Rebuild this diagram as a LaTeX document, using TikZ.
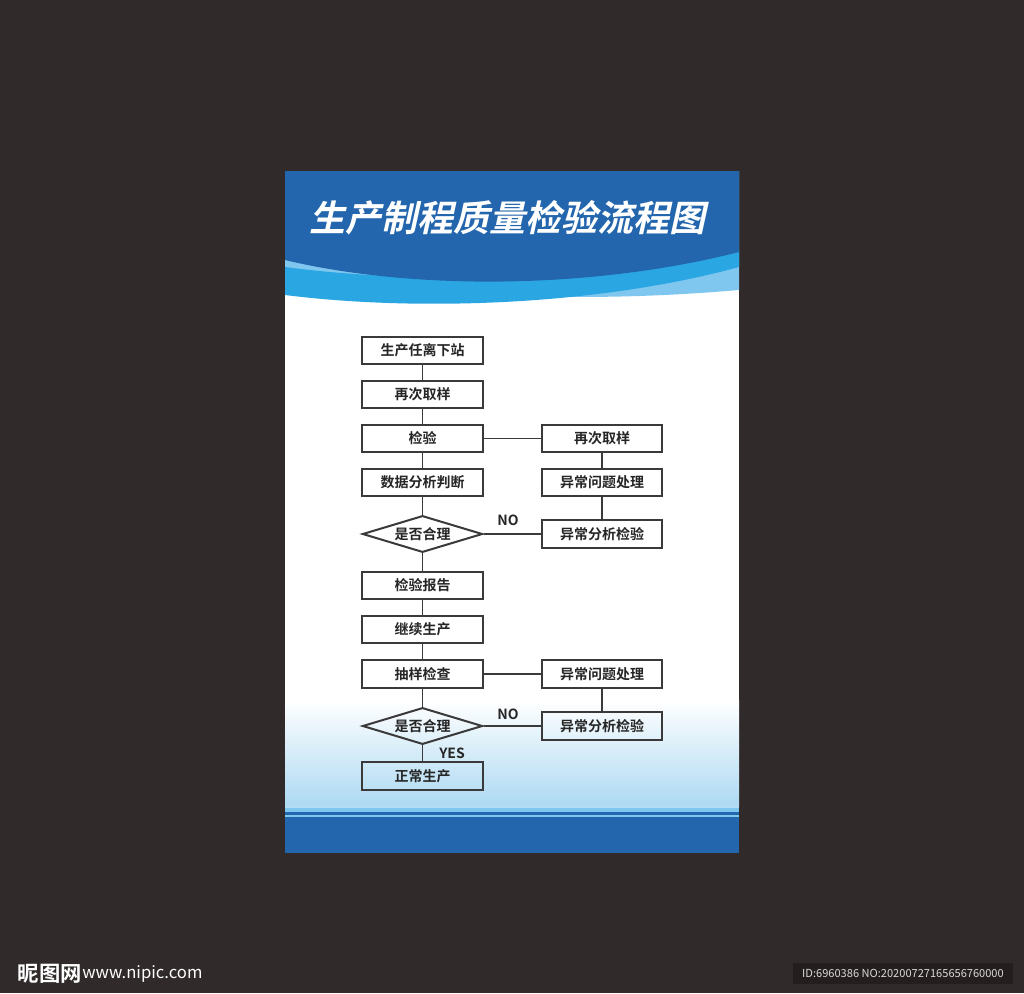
\documentclass[tikz,border=0pt]{standalone}
\usepackage{fontspec}
\usepackage{xcolor}
\usetikzlibrary{shapes.geometric}
\setmainfont{Noto Sans CJK SC}[BoldFont={Noto Sans CJK SC Bold}]
\newfontfamily\titlefont{Noto Sans CJK SC Bold}[FakeSlant=0.22]
\definecolor{bgdark}{HTML}{302A2A}
\definecolor{markdark}{HTML}{241E1E}
\definecolor{headblue}{HTML}{2366AD}
\definecolor{brightblue}{HTML}{2AA7E3}
\definecolor{paleblue}{HTML}{7FC7EF}
\definecolor{fadeblue}{HTML}{ADD9F2}
\definecolor{boxline}{HTML}{3A3A3A}

\begin{document}
\begin{tikzpicture}[x=0.75pt,y=-0.75pt,
    flowbox/.style={draw=boxline,line width=1.5pt,minimum width=90.5pt,minimum height=20.5pt,
      inner sep=0pt,font=\bfseries\fontsize{10.5}{12}\selectfont,text=black!85},
    judge/.style={flowbox,shape=diamond,aspect=3.2,minimum width=90pt,minimum height=27.5pt},
    joinline/.style={draw=boxline,line width=1.4pt},
    notelabel/.style={font=\bfseries\fontsize{10.5}{12}\selectfont,text=black!85}]
  \useasboundingbox (0,0) rectangle (1024,993);
  % Background
  \fill[bgdark] (0,0) rectangle (1024,993);

  % Poster
  \fill[white] (285,171) rectangle (739,853);
  \shade[top color=white,bottom color=fadeblue] (285,700) rectangle (739,806);

  % Header waves
  \fill[paleblue] (285,171) -- (285,272) .. controls (450,300) and (600,302) .. (739,290) -- (739,171) -- cycle;
  \fill[brightblue] (285,267) .. controls (420,285) and (600,280) .. (739,250)
    -- (739,267) .. controls (600,305) and (420,312) .. (285,295) -- cycle;
  \fill[headblue] (285,171) -- (285,260) .. controls (410,290) and (590,290) .. (739,252) -- (739,171) -- cycle;
  \node[font=\titlefont\fontsize{27}{29}\selectfont,text=white] (title) at (507,218) {生产制程质量检验流程图};

  % Footer
  \fill[paleblue!60] (285,806) rectangle (739,808);
  \fill[paleblue] (285,808) rectangle (739,812);
  \fill[headblue] (285,812) rectangle (739,815);
  \fill[paleblue] (285,815) rectangle (739,817);
  \fill[headblue] (285,817) rectangle (739,853);

  % Main column
  \node[flowbox] (leave) at (422.5,350.5) {生产任离下站};
  \node[flowbox] (sample) at (422.5,394.5) {再次取样};
  \node[flowbox] (inspect) at (422.5,438.5) {检验};
  \node[flowbox] (analyse) at (422.5,482.5) {数据分析判断};
  \node[judge] (ok) at (422.5,534) {是否合理};
  \node[flowbox] (report) at (422.5,585.5) {检验报告};
  \node[flowbox] (goon) at (422.5,629.5) {继续生产};
  \node[flowbox] (spot) at (422.5,674) {抽样检查};
  \node[judge] (oktwo) at (422.5,726) {是否合理};
  \node[flowbox] (normal) at (422.5,776) {正常生产};

  % Side column
  \node[flowbox] (resample) at (602,438.5) {再次取样};
  \node[flowbox] (handle) at (602,482.5) {异常问题处理};
  \node[flowbox] (fault) at (602,534) {异常分析检验};
  \node[flowbox] (handletwo) at (602,674) {异常问题处理};
  \node[flowbox] (faulttwo) at (602,726) {异常分析检验};

  % Connectors
  \draw[joinline] (leave) -- (sample) -- (inspect) -- (analyse) -- (ok) -- (report) -- (goon) -- (spot) -- (oktwo) -- (normal);
  \draw[joinline] (inspect) -- (resample);
  \draw[joinline] (resample) -- (handle) -- (fault);
  \draw[joinline] (ok) -- (fault);
  \draw[joinline] (spot) -- (handletwo);
  \draw[joinline] (handletwo) -- (faulttwo);
  \draw[joinline] (oktwo) -- (faulttwo);
  \node[notelabel] (no) at (508,520) {NO};
  \node[notelabel] (notwo) at (508,714) {NO};
  \node[notelabel] (yes) at (452,753) {YES};

  % Watermark
  \node[anchor=west,text=white,font=\bfseries\fontsize{16}{18}\selectfont] (site) at (13,973.5) {昵图网};
  \node[anchor=west,text=white,font=\fontsize{12.5}{14}\selectfont,inner sep=0pt] (url) at (82,973.5) {www.nipic.com};
  \fill[markdark] (793,963) rectangle (1013,984);
  \node[text=white!85!black,font=\fontsize{8.3}{10}\selectfont] (code) at (903,973.5) {ID:6960386 NO:20200727165656760000};
\end{tikzpicture}
\end{document}
